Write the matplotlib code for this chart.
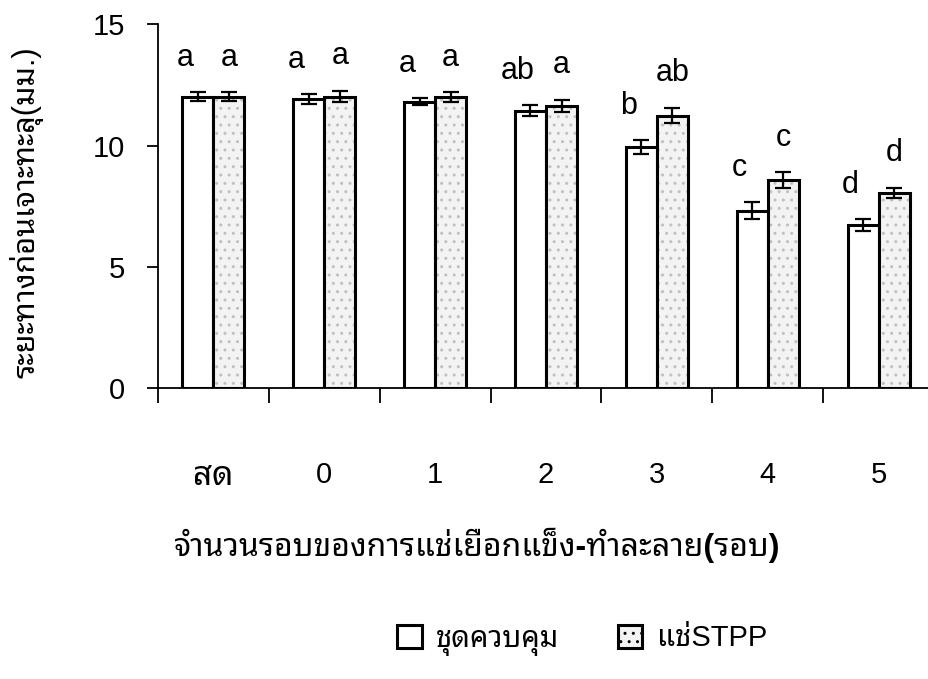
import matplotlib
matplotlib.use("Agg")
import matplotlib.pyplot as plt
from matplotlib.patches import Patch
import numpy as np

plt.rcParams["font.family"] = ["Liberation Sans", "Noto Sans Thai Looped"]

# ── Data ───────────────────────────────────────────────────────────────
categories = ["สด", "0", "1", "2", "3", "4", "5"]
control = [12.02, 11.93, 11.81, 11.44, 9.93, 7.32, 6.73]
control_err = [0.18, 0.20, 0.15, 0.22, 0.29, 0.36, 0.24]
stpp = [12.02, 12.02, 12.00, 11.64, 11.24, 8.59, 8.06]
stpp_err = [0.18, 0.24, 0.20, 0.26, 0.32, 0.32, 0.20]
control_letters = ["a", "a", "a", "ab", "b", "c", "d"]
stpp_letters = ["a", "a", "a", "a", "ab", "c", "d"]

ylabel = "ระยะทางก่อนเจาะทะลุ(มม.)"
xlabel = "จำนวนรอบของการแช่เยือกแข็ง-ทำละลาย(รอบ)"
legend_labels = ["ชุดควบคุม", "แช่STPP"]

# ── Plot ───────────────────────────────────────────────────────────────
fig = plt.figure(figsize=(9.29, 6.79), dpi=100)
ax = fig.add_axes([158 / 929, 1 - 388.3 / 679, 776 / 929, 364 / 679])

x = np.arange(len(categories))
w = 0.28
bar_kw = dict(edgecolor="black", linewidth=2.2)
err_kw = dict(ecolor="black", elinewidth=1.6, capsize=6, capthick=1.6)

ax.bar(x - w / 2, control, w, color="white", yerr=control_err,
       error_kw=err_kw, zorder=2, **bar_kw)
# stippled bars: light fill + sparse dot hatch, then outline
ax.bar(x + w / 2, stpp, w, color="#f3f3f3", hatch="..",
       edgecolor="#c0c0c0", linewidth=0, zorder=2)
ax.bar(x + w / 2, stpp, w, fill=False, yerr=stpp_err,
       error_kw=err_kw, zorder=3, **bar_kw)

# significance letters
for i in range(len(categories)):
    ax.annotate(control_letters[i], (x[i] - w / 2, control[i] + control_err[i]),
                xytext=(-9, 19), textcoords="offset points",
                ha="center", va="baseline", fontsize=22)
    ax.annotate(stpp_letters[i], (x[i] + w / 2, stpp[i] + stpp_err[i]),
                xytext=(0, 19), textcoords="offset points",
                ha="center", va="baseline", fontsize=22)

ax.set_xlim(-0.5, len(categories) - 0.5)
ax.set_ylim(0, 15)
ax.set_yticks([0, 5, 10, 15])
ax.set_xticks(x, categories)
ax.set_xticks(np.arange(-0.5, len(categories)), minor=True)

for s in ["top", "right"]:
    ax.spines[s].set_visible(False)
for s in ["left", "bottom"]:
    ax.spines[s].set_linewidth(1.3)

ax.tick_params(axis="y", direction="out", length=8, width=1.3,
               pad=16, labelsize=21)
ax.tick_params(axis="x", which="major", length=0, pad=52, labelsize=21)
ax.tick_params(axis="x", which="minor", direction="out", length=11, width=1.3)
ax.get_xticklabels()[0].set_fontsize(24)  # Thai label renders small

fig.text(27 / 929, 1 - 212 / 679, ylabel, rotation=90,
         ha="center", va="center", fontsize=22)
fig.text(477 / 929, 1 - 545 / 679, xlabel,
         ha="center", va="center", fontsize=23, fontweight="bold")

handles = [
    Patch(facecolor="white", edgecolor="black", linewidth=2.2),
    Patch(facecolor="#f3f3f3", edgecolor="black", linewidth=2.2, hatch=".."),
]
fig.legend(handles, legend_labels, loc="center",
           bbox_to_anchor=(582 / 929, 1 - 640 / 679), ncol=2, frameon=False,
           fontsize=21, handlelength=0.85, handleheight=0.85,
           handletextpad=0.5, columnspacing=2.0)

fig.savefig("out.png", dpi=100)
